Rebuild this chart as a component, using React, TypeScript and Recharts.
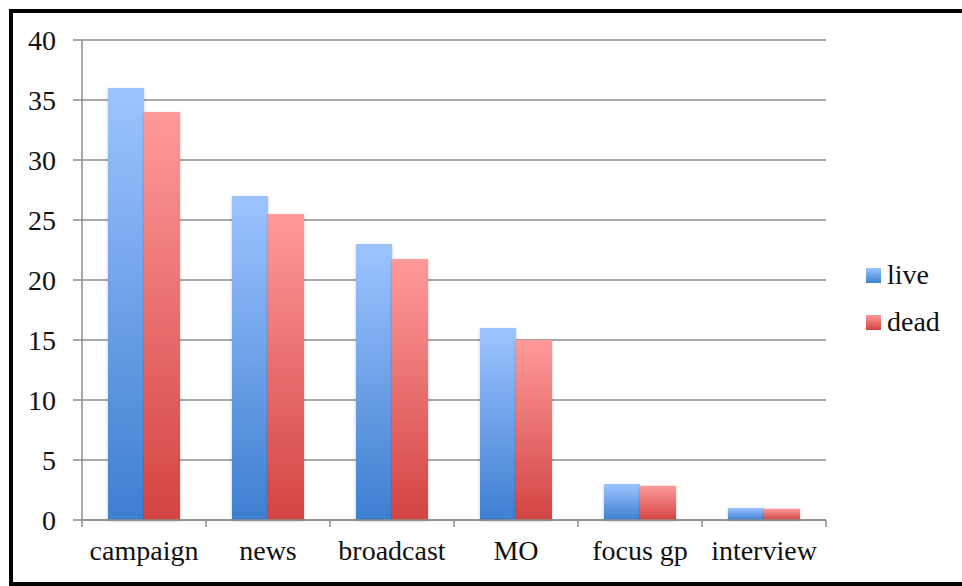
import React from 'react';
import {
  Bar,
  BarChart,
  CartesianGrid,
  Legend,
  XAxis,
  YAxis,
} from 'recharts';

const categories = ['campaign', 'news', 'broadcast', 'MO', 'focus gp', 'interview'];
const liveValues = [36, 27, 23, 16, 3, 1];
const deadValues = [34, 25.5, 21.75, 15, 2.85, 0.93];
const yTicks = [0, 5, 10, 15, 20, 25, 30, 35, 40];

const data = categories.map((name, i) => ({
  name,
  live: liveValues[i],
  dead: deadValues[i],
}));

const fontFamily = '"Liberation Serif", "Times New Roman", serif';
const axisGray = '#8c8c8c';

const seriesStyle = [
  { key: 'live', top: '#9dc4ff', bottom: '#3e7fd1' },
  { key: 'dead', top: '#ff9a9a', bottom: '#d24442' },
];

// x labels centred in each band, tick marks on the band edges
const CategoryTick = (props: any) => {
  const { x, y, payload, index, width } = props;
  const half = (width || 744) / categories.length / 2;
  return (
    <g>
      <line x1={x - half} y1={y} x2={x - half} y2={y + 7} stroke={axisGray} strokeWidth={1.5} />
      {index === categories.length - 1 && (
        <line x1={x + half} y1={y} x2={x + half} y2={y + 7} stroke={axisGray} strokeWidth={1.5} />
      )}
      <text x={x} y={y + 40} textAnchor="middle" fontSize={28} fontFamily={fontFamily} fill="#111">
        {payload.value}
      </text>
    </g>
  );
};

const renderLegend = () => (
  <ul style={{ listStyle: 'none', margin: 0, padding: 0, fontFamily, fontSize: 28, color: '#111' }}>
    {seriesStyle.map((s) => (
      <li key={s.key} style={{ display: 'flex', alignItems: 'center', height: 47 }}>
        <span
          style={{
            display: 'inline-block',
            width: 15,
            height: 15,
            marginRight: 6,
            marginTop: 2,
            background: `linear-gradient(${s.top}, ${s.bottom})`,
          }}
        />
        {s.key}
      </li>
    ))}
  </ul>
);

const App: React.FC = () => {
  return (
    <div style={{ position: 'absolute', left: 0, top: 0, width: 962, height: 586, overflow: 'hidden', background: '#fff' }}>
      {/* frame: left, top and bottom edges only, the right one is cut off */}
      <svg width={962} height={586} style={{ position: 'absolute', left: 0, top: 0 }}>
        <path d="M962 11 H11 V584 H962" fill="none" stroke="#000" strokeWidth={4} />
      </svg>
      <div style={{ position: 'absolute', left: 0, top: 0 }}>
        <BarChart
          width={962}
          height={586}
          data={data}
          margin={{ top: 40, right: 40, bottom: 0, left: 0 }}
          barCategoryGap={26}
          barGap={0}
        >
          <defs>
            {seriesStyle.map((s) => (
              <linearGradient key={s.key} id={`grad-${s.key}`} x1="0" y1="0" x2="0" y2="1">
                <stop offset="0%" stopColor={s.top} />
                <stop offset="100%" stopColor={s.bottom} />
              </linearGradient>
            ))}
            <filter id="barShadow" x="-10%" y="-10%" width="120%" height="120%">
              <feDropShadow dx="0" dy="1" stdDeviation="1.5" floodColor="#000" floodOpacity="0.25" />
            </filter>
          </defs>
          <CartesianGrid vertical={false} stroke={axisGray} strokeWidth={1.5} />
          <XAxis
            dataKey="name"
            height={66}
            tickLine={false}
            tickSize={0}
            tickMargin={0}
            axisLine={{ stroke: axisGray, strokeWidth: 1.5 }}
            tick={<CategoryTick />}
            interval={0}
          />
          <YAxis
            width={82}
            domain={[0, 40]}
            ticks={yTicks}
            tickSize={9}
            tickMargin={17}
            axisLine={{ stroke: axisGray, strokeWidth: 1.5 }}
            tickLine={{ stroke: axisGray, strokeWidth: 1.5 }}
            tick={{ fontSize: 28, fontFamily, fill: '#111' }}
          />
          <Legend
            layout="vertical"
            align="right"
            verticalAlign="middle"
            content={renderLegend}
            wrapperStyle={{ position: 'absolute', left: 866, top: 251, width: 96 }}
          />
          {seriesStyle.map((s) => (
            <Bar
              key={s.key}
              dataKey={s.key}
              fill={`url(#grad-${s.key})`}
              filter="url(#barShadow)"
              isAnimationActive={false}
            />
          ))}
        </BarChart>
      </div>
    </div>
  );
};

export default App;
